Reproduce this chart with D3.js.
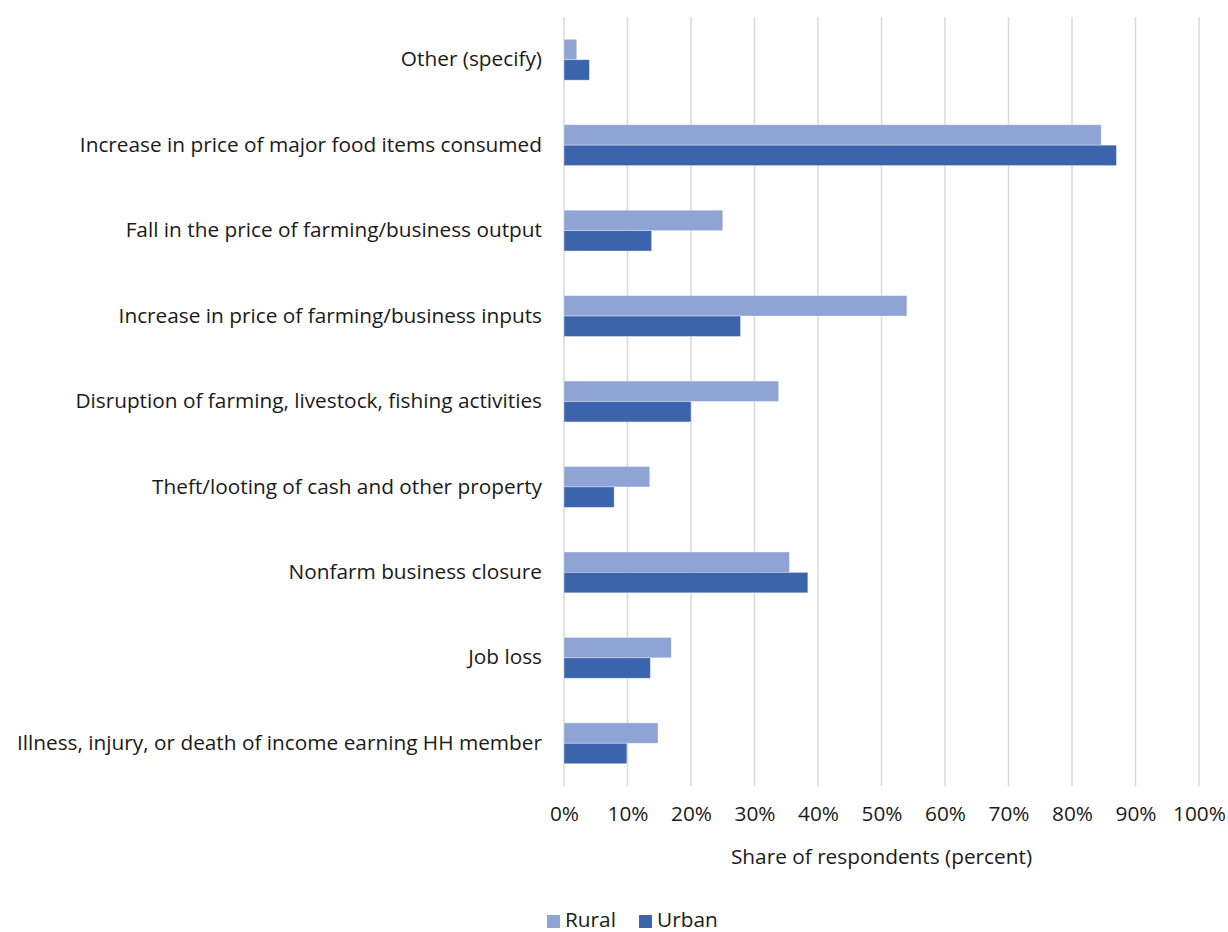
<!DOCTYPE html>
<html>
<head>
<meta charset="utf-8">
<script src="https://cdn.jsdelivr.net/npm/d3@7"></script>
<style>
  html, body { margin: 0; padding: 0; background: #fff; }
  svg text { font-family: "Open Sans", Lato, sans-serif; fill: #1a1a1a; }
</style>
</head>
<body>
<svg id="chart" width="1228" height="932"></svg>
<script>
// Shock categories, top to bottom
const categories = [
  "Other (specify)",
  "Increase in price of major food items consumed",
  "Fall in the price of farming/business output",
  "Increase in price of farming/business inputs",
  "Disruption of farming, livestock, fishing activities",
  "Theft/looting of cash and other property",
  "Nonfarm business closure",
  "Job loss",
  "Illness, injury, or death of income earning HH member"
];

const seriesNames = ["Rural", "Urban"];

// Share of respondents (percent)
const ruralValues = [2.0, 84.6, 25.0, 54.0, 33.8, 13.5, 35.5, 16.9, 14.8];
const urbanValues = [4.0, 87.0, 13.8, 27.8, 20.0, 7.9, 38.4, 13.6, 9.9];

const tickValues = [0, 10, 20, 30, 40, 50, 60, 70, 80, 90, 100];

const colors = { Rural: "#8fa3d4", Urban: "#3b64ad" };

const fontSize = "20.8px";

const svg = d3.select("#chart");

const plot = { left: 564, right: 1199, top: 17, bottom: 786 };

const x = d3.scaleLinear().domain([0, 100]).range([plot.left, plot.right]);

const y = d3.scaleBand()
  .domain(categories)
  .range([plot.top, plot.bottom])
  .paddingInner(0.522)
  .paddingOuter(0.261);

const ySub = d3.scaleBand().domain(seriesNames).range([0, y.bandwidth()]);

// Vertical gridlines
svg.append("g")
  .selectAll("line")
  .data(tickValues)
  .join("line")
  .attr("x1", d => x(d)).attr("x2", d => x(d))
  .attr("y1", plot.top).attr("y2", plot.bottom)
  .attr("stroke", "#d9d9d9")
  .attr("stroke-width", 1.5);

// Bars
const rows = categories.map((c, i) => ({
  category: c,
  values: [
    { series: "Rural", value: ruralValues[i] },
    { series: "Urban", value: urbanValues[i] }
  ]
}));

const groups = svg.append("g")
  .selectAll("g")
  .data(rows)
  .join("g")
  .attr("transform", d => `translate(0,${y(d.category)})`);

groups.selectAll("rect")
  .data(d => d.values)
  .join("rect")
  .attr("x", x(0))
  .attr("y", d => ySub(d.series))
  .attr("width", d => x(d.value) - x(0))
  .attr("height", ySub.bandwidth())
  .attr("fill", d => colors[d.series])
  .attr("stroke", "rgba(255,255,255,0.45)")
  .attr("stroke-width", 0.8);

// Category labels
const yAxis = d3.axisLeft(y).tickSize(0).tickPadding(22);
const yg = svg.append("g")
  .attr("transform", `translate(${plot.left},0)`)
  .call(yAxis);
yg.select(".domain").remove();
yg.selectAll("text")
  .style("font-size", fontSize)
  .attr("fill", "#1a1a1a");

// Value axis
const xAxis = d3.axisBottom(x)
  .tickValues(tickValues)
  .tickFormat(d => d + "%")
  .tickSize(0)
  .tickPadding(20);
const xg = svg.append("g")
  .attr("transform", `translate(0,${plot.bottom})`)
  .call(xAxis);
xg.select(".domain").remove();
xg.selectAll("text")
  .style("font-size", fontSize)
  .attr("fill", "#1a1a1a");

// Axis title
svg.append("text")
  .attr("x", (plot.left + plot.right) / 2)
  .attr("y", 864)
  .attr("text-anchor", "middle")
  .style("font-size", fontSize)
  .text("Share of respondents (percent)");

// Legend
const legendItems = [
  { name: "Rural", x: 547 },
  { name: "Urban", x: 639 }
];
const legend = svg.append("g");
legend.selectAll("rect")
  .data(legendItems)
  .join("rect")
  .attr("x", d => d.x)
  .attr("y", 915)
  .attr("width", 13)
  .attr("height", 13)
  .attr("fill", d => colors[d.name]);
legend.selectAll("text")
  .data(legendItems)
  .join("text")
  .attr("x", d => d.x + 18)
  .attr("y", 927)
  .style("font-size", fontSize)
  .text(d => d.name);
</script>
</body>
</html>
